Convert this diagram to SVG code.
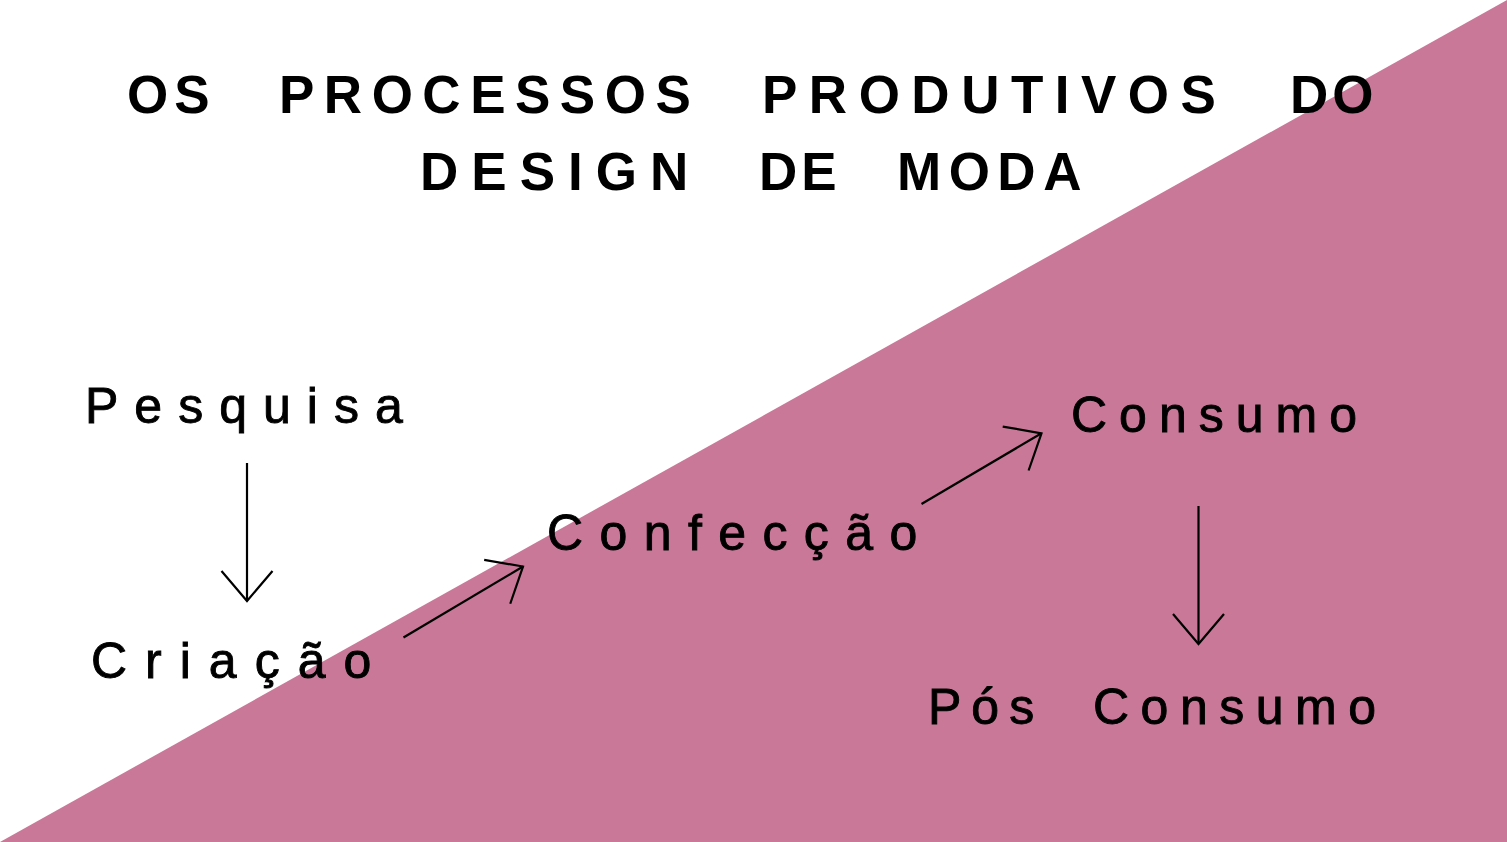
<svg xmlns="http://www.w3.org/2000/svg" width="1507" height="842" viewBox="0 0 1507 842">
<style>
.title{font-family:"Liberation Sans",Arial,sans-serif;font-weight:bold;font-size:53px;fill:#000}
.lbl{font-family:"Liberation Sans",Arial,sans-serif;font-size:50px;fill:#000;stroke:#000;stroke-width:0.9}
.conn{stroke:#000;stroke-width:2.2;fill:none}
</style>
<defs>
<marker id="ah" markerUnits="userSpaceOnUse" orient="auto" markerWidth="40" markerHeight="60" refX="0" refY="0" viewBox="-35 -30 40 60" overflow="visible">
<path d="M -30 -25.5 L 0 0 L -30 25.5" fill="none" stroke="#000" stroke-width="2.2"/>
</marker>
</defs>
<rect width="1507" height="842" fill="#fff"/>
<polygon id="bg-triangle" points="0,842 1507,0 1507,842" fill="#C97897"/>
<g id="title">
<text class="title" y="113"><tspan x="127" letter-spacing="6">OS</tspan> <tspan x="279" letter-spacing="9.5">PROCESSOS</tspan> <tspan x="762" letter-spacing="11.5">PRODUTIVOS</tspan> <tspan x="1290" letter-spacing="4">DO</tspan></text>
<text class="title" y="190"><tspan x="420" letter-spacing="13">DESIGN</tspan> <tspan x="759" letter-spacing="4">DE</tspan> <tspan x="897" letter-spacing="7.5">MODA</tspan></text>
</g>
<g id="node-pesquisa"><text class="lbl" x="85" y="423" letter-spacing="16">Pesquisa</text></g>
<g id="node-criacao"><text class="lbl" x="91" y="678" letter-spacing="18">Criação</text></g>
<g id="node-confeccao"><text class="lbl" x="547" y="550" letter-spacing="16.4">Confecção</text></g>
<g id="node-consumo"><text class="lbl" x="1071" y="432" letter-spacing="12">Consumo</text></g>
<g id="node-pos-consumo"><text class="lbl" y="724"><tspan x="928" letter-spacing="10">Pós</tspan> <tspan x="1093" letter-spacing="11.5">Consumo</tspan></text></g>
<g id="connectors">
<line class="conn" x1="247" y1="463" x2="247" y2="601" marker-end="url(#ah)"/>
<line class="conn" x1="403.5" y1="637.5" x2="523" y2="566.5" marker-end="url(#ah)"/>
<line class="conn" x1="921.5" y1="504" x2="1041.5" y2="433.3" marker-end="url(#ah)"/>
<line class="conn" x1="1198.5" y1="506" x2="1198.5" y2="644" marker-end="url(#ah)"/>
</g>
</svg>
